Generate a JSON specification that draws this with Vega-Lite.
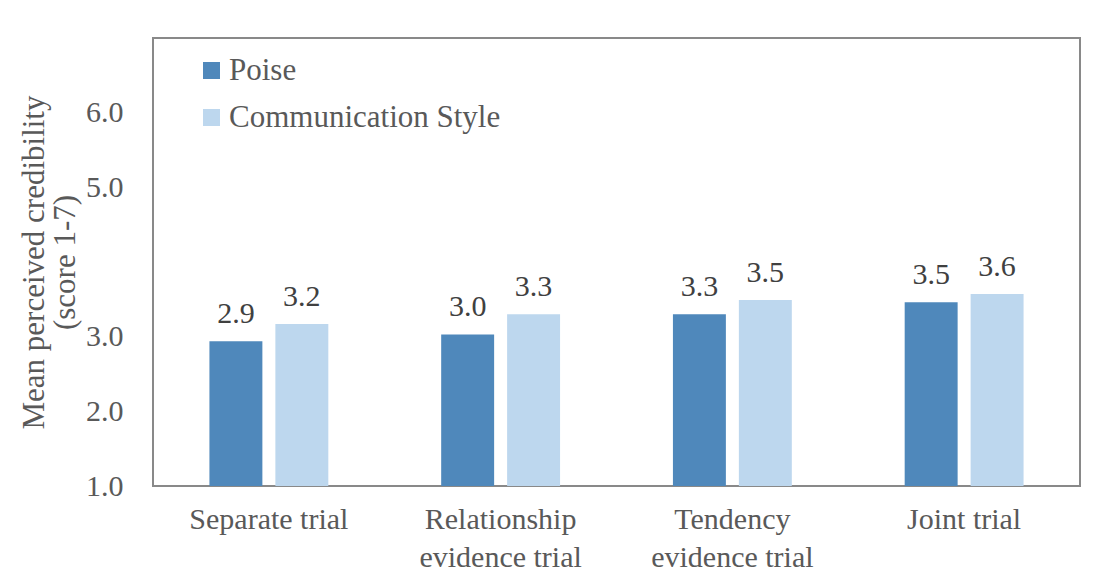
{
  "$schema": "https://vega.github.io/schema/vega-lite/v6.json",
  "autosize": {"type": "none"},
  "width": 927,
  "height": 448,
  "padding": {"left": 153, "top": 38, "right": 17, "bottom": 88},
  "background": "white",
  "config": {
    "font": "Liberation Serif",
    "view": {"stroke": "#898989", "strokeWidth": 2},
    "axis": {"labelFont": "Liberation Serif", "titleFont": "Liberation Serif"}
  },
  "data": {
    "values": [
      {"trial": "Separate trial", "condition": "Poise", "value": 2.94},
      {"trial": "Separate trial", "condition": "Communication Style", "value": 3.17},
      {"trial": "Relationship evidence trial", "condition": "Poise", "value": 3.03},
      {"trial": "Relationship evidence trial", "condition": "Communication Style", "value": 3.30},
      {"trial": "Tendency evidence trial", "condition": "Poise", "value": 3.30},
      {"trial": "Tendency evidence trial", "condition": "Communication Style", "value": 3.49},
      {"trial": "Joint trial", "condition": "Poise", "value": 3.46},
      {"trial": "Joint trial", "condition": "Communication Style", "value": 3.57}
    ]
  },
  "encoding": {
    "x": {
      "field": "trial", "type": "nominal",
      "sort": ["Separate trial", "Relationship evidence trial", "Tendency evidence trial", "Joint trial"],
      "scale": {"paddingInner": 0.487, "paddingOuter": 0.2435},
      "axis": {
        "title": null, "labelAngle": 0, "domain": false, "ticks": false, "tickSize": 0,
        "labelFontSize": 30, "labelColor": "#595959", "labelPadding": 18, "labelLineHeight": 38,
        "labelBaseline": "top", "labelLimit": 400,
        "labelExpr": "indexof(datum.label, ' evidence trial') > 0 ? [replace(datum.label, ' evidence trial', ''), 'evidence trial'] : datum.label"
      }
    },
    "xOffset": {
      "field": "condition", "type": "nominal",
      "sort": ["Poise", "Communication Style"],
      "scale": {"paddingInner": 0.197, "paddingOuter": 0}
    },
    "y": {
      "field": "value", "type": "quantitative",
      "scale": {"domain": [1, 7], "nice": false, "zero": false},
      "axis": {
        "title": ["Mean perceived  credibility", "(score 1-7)"],
        "titleFontSize": 31, "titleFontWeight": "normal", "titleColor": "#595959",
        "titleLineHeight": 31, "titlePadding": 4,
        "values": [1, 2, 3, 5, 6], "format": ".1f",
        "grid": false, "domain": false, "ticks": false, "tickSize": 0,
        "labelFontSize": 30, "labelColor": "#595959", "labelPadding": 30
      }
    }
  },
  "layer": [
    {
      "mark": {"type": "bar"},
      "encoding": {
        "y2": {"datum": 1},
        "color": {
          "field": "condition", "type": "nominal",
          "sort": ["Poise", "Communication Style"],
          "scale": {"domain": ["Poise", "Communication Style"], "range": ["#4f88bb", "#bdd7ee"]},
          "legend": {
            "title": null, "orient": "none", "legendX": 43, "legendY": 17,
            "symbolType": "square", "symbolSize": 289, "symbolStrokeWidth": 0,
            "labelFontSize": 31, "labelColor": "#595959", "labelFont": "Liberation Serif",
            "labelOffset": 2, "rowPadding": 15, "labelLimit": 500
          }
        }
      }
    },
    {
      "mark": {"type": "text", "baseline": "alphabetic", "dy": -18, "fontSize": 30, "color": "#404040", "font": "Liberation Serif"},
      "encoding": {
        "text": {"field": "value", "type": "quantitative", "format": ".1f"}
      }
    }
  ]
}
